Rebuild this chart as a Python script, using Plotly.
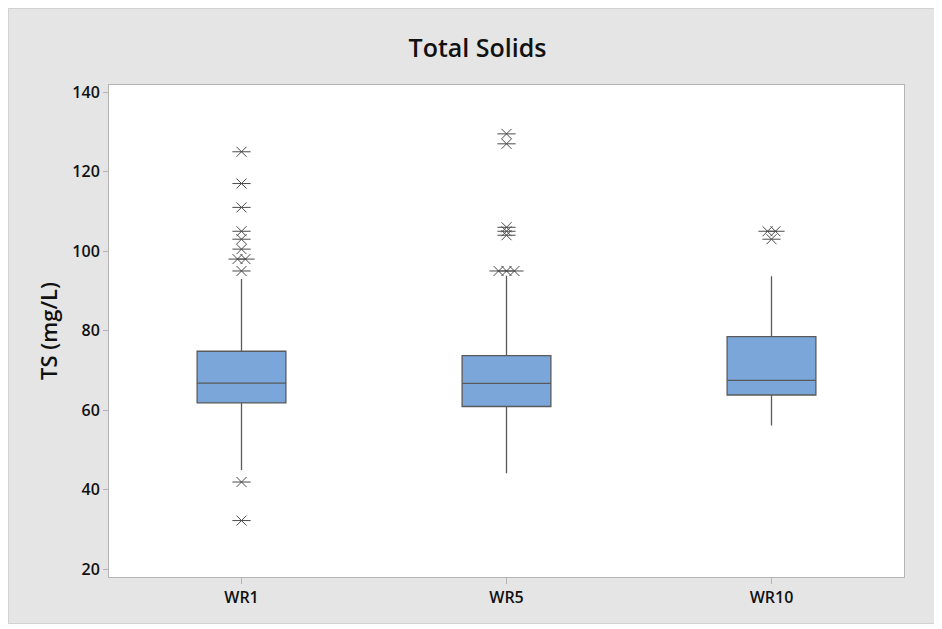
import plotly.graph_objects as go
from collections import Counter

# ---- data ----
categories = ["WR1", "WR5", "WR10"]
q1_vals = [61.8, 60.9, 63.8]
median_vals = [66.8, 66.7, 67.5]
q3_vals = [74.8, 73.7, 78.5]
lower_whisker = [44.9, 44.1, 56.1]
upper_whisker = [93.0, 93.8, 93.7]
outliers_wr1 = [125, 117, 111, 105, 103, 100.5, 98, 98, 95, 41.9, 32.2]
outliers_wr5 = [129.5, 127, 106, 105, 104, 95, 95, 95]
outliers_wr10 = [105, 105, 103]
outliers = [outliers_wr1, outliers_wr5, outliers_wr10]
y_ticks = [20, 40, 60, 80, 100, 120, 140]

# figure sits at page offset (8, 8) because of the default body margin
W, H = 928, 616
L, R, T, B = 101, 32, 77, 47

fig = go.Figure()

box_fill = "#7BA6DA"
edge = "#5A5A5A"
for i, c in enumerate(categories):
    fig.add_trace(go.Box(
        x=[i], q1=[q1_vals[i]], median=[median_vals[i]], q3=[q3_vals[i]],
        lowerfence=[lower_whisker[i]], upperfence=[upper_whisker[i]],
        width=0.335, whiskerwidth=0, fillcolor=box_fill,
        line=dict(color=edge, width=1.3), boxpoints=False,
        hoverinfo="y", showlegend=False, name=c,
    ))

# outlier asterisks (duplicates spread side by side)
ox, oy = [], []
step = 0.03
for i, vals in enumerate(outliers):
    counts = Counter(vals)
    seen = Counter()
    for v in vals:
        n = counts[v]
        k = seen[v]
        seen[v] += 1
        ox.append(i + (k - (n - 1) / 2) * step)
        oy.append(v)

for sym, size in [("line-ew-open", 13), ("x-thin-open", 10)]:
    fig.add_trace(go.Scatter(
        x=ox, y=oy, mode="markers", showlegend=False, hoverinfo="y",
        marker=dict(symbol=sym, size=size, color="#4A4A4A",
                    line=dict(color="#4A4A4A", width=1)),
    ))

# thin frame around the grey figure area
pw = W - L - R
ph = H - T - B
fig.add_shape(type="rect", xref="paper", yref="paper", layer="above",
              x0=-(L - 0.5) / pw, x1=1 + (R - 0.5) / pw,
              y0=-(B - 0.5) / ph, y1=1 + (T - 0.5) / ph,
              fillcolor="rgba(0,0,0,0)", line=dict(color="#D2D2D2", width=1))

font_family = "Open Sans, Noto Sans, sans-serif"
fig.update_layout(
    width=W, height=H,
    margin=dict(l=L, r=R, t=T, b=B),
    paper_bgcolor="#E5E5E5", plot_bgcolor="white",
    title=dict(text="Total Solids", x=0.506, xref="container", xanchor="center",
               y=1 - 40 / H, yref="container", yanchor="middle",
               font=dict(family=font_family, size=25, color="#111111", weight=600)),
    xaxis=dict(
        range=[-0.5, 2.5], tickmode="array", tickvals=[0, 1, 2], ticktext=categories,
        showgrid=False, zeroline=False, showline=True, mirror=True,
        linecolor="#B4B4B4", linewidth=1, ticks="outside", ticklen=6,
        tickcolor="#B4B4B4",
        tickfont=dict(family=font_family, size=16, color="#111111", weight=600),
    ),
    yaxis=dict(
        range=[18, 141.8], tickmode="array", tickvals=y_ticks,
        showgrid=False, zeroline=False, showline=True, mirror=True,
        linecolor="#B4B4B4", linewidth=1, ticks="outside", ticklen=5,
        tickcolor="#B4B4B4",
        tickfont=dict(family=font_family, size=16, color="#111111", weight=600),
        title=dict(text="TS (mg/L)", standoff=8,
                   font=dict(family=font_family, size=22, color="#111111", weight=600)),
    ),
)

fig.write_html("out.html")
